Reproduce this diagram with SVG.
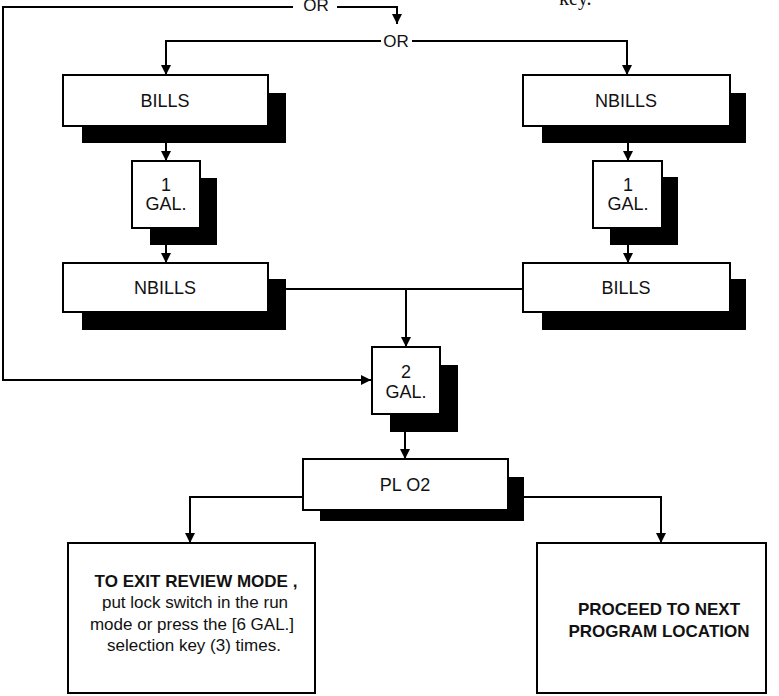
<svg xmlns="http://www.w3.org/2000/svg" width="779" height="696" viewBox="0 0 779 696">
  <style>
    .box { fill: #ffffff; stroke: #000000; stroke-width: 2; }
    .shadow { fill: #000000; stroke: none; }
    .wire { fill: none; stroke: #000000; stroke-width: 2; }
    .lbl { font-family: "Liberation Sans", Arial, sans-serif; font-size: 17px; fill: #111111; text-anchor: middle; }
    .big { font-size: 18px; }
    .bold { font-weight: bold; }
    .serif { font-family: "Liberation Serif", "Times New Roman", serif; font-size: 20px; fill: #111111; }
  </style>
  <defs>
    <marker id="arrow" viewBox="0 0 10 10" refX="10" refY="5" markerWidth="10" markerHeight="11" markerUnits="userSpaceOnUse" orient="auto">
      <path d="M0,0 L10,5 L0,10 Z" fill="#000000"/>
    </marker>
  </defs>

  <rect width="779" height="696" fill="#ffffff"/>

  <text class="serif" x="559" y="5">key.</text>

  <!-- connectors -->
  <g id="connectors">
    <path class="wire" d="M372,380 H3 V7 H293"/>
    <path class="wire" d="M3,380 H371" marker-end="url(#arrow)"/>
    <path class="wire" d="M337,7 H397 V24" marker-end="url(#arrow)"/>
    <text class="lbl" x="316" y="11">OR</text>

    <path class="wire" d="M381,41 H166 V75" marker-end="url(#arrow)"/>
    <path class="wire" d="M412,41 H627 V75" marker-end="url(#arrow)"/>
    <text class="lbl" x="396" y="47">OR</text>

    <path class="wire" d="M166,143 V161" marker-end="url(#arrow)"/>
    <path class="wire" d="M166,245 V263" marker-end="url(#arrow)"/>
    <path class="wire" d="M628,143 V161" marker-end="url(#arrow)"/>
    <path class="wire" d="M628,245 V263" marker-end="url(#arrow)"/>

    <path class="wire" d="M286,289 H523"/>
    <path class="wire" d="M406,289 V347" marker-end="url(#arrow)"/>
    <path class="wire" d="M405,432 V459" marker-end="url(#arrow)"/>

    <path class="wire" d="M303,497 H190 V543" marker-end="url(#arrow)"/>
    <path class="wire" d="M524,497 H661 V543" marker-end="url(#arrow)"/>
  </g>

  <!-- left column -->
  <g id="bills-left">
    <rect class="shadow" x="82" y="93" width="204" height="50"/>
    <rect class="box" x="63" y="75" width="205" height="51"/>
    <text class="lbl big" x="165" y="107">BILLS</text>
  </g>
  <g id="gal1-left">
    <rect class="shadow" x="150" y="178" width="67" height="67"/>
    <rect class="box" x="132" y="161" width="68" height="67"/>
    <text class="lbl big" x="166" y="191">1</text>
    <text class="lbl big" x="166" y="210">GAL.</text>
  </g>
  <g id="nbills-left">
    <rect class="shadow" x="82" y="279" width="204" height="51"/>
    <rect class="box" x="63" y="263" width="205" height="49"/>
    <text class="lbl big" x="165" y="294">NBILLS</text>
  </g>

  <!-- right column -->
  <g id="nbills-right">
    <rect class="shadow" x="542" y="93" width="204" height="50"/>
    <rect class="box" x="523" y="75" width="207" height="51"/>
    <text class="lbl big" x="626" y="107">NBILLS</text>
  </g>
  <g id="gal1-right">
    <rect class="shadow" x="610" y="177" width="68" height="68"/>
    <rect class="box" x="593" y="161" width="69" height="67"/>
    <text class="lbl big" x="628" y="191">1</text>
    <text class="lbl big" x="628" y="210">GAL.</text>
  </g>
  <g id="bills-right">
    <rect class="shadow" x="542" y="279" width="204" height="51"/>
    <rect class="box" x="523" y="263" width="207" height="49"/>
    <text class="lbl big" x="626" y="294">BILLS</text>
  </g>

  <!-- centre column -->
  <g id="gal2">
    <rect class="shadow" x="390" y="365" width="68" height="67"/>
    <rect class="box" x="372" y="347" width="68" height="67"/>
    <text class="lbl big" x="406" y="378">2</text>
    <text class="lbl big" x="406" y="398">GAL.</text>
  </g>
  <g id="plo2">
    <rect class="shadow" x="320" y="477" width="204" height="44"/>
    <rect class="box" x="303" y="459" width="205" height="51"/>
    <text class="lbl big" x="405" y="491">PL O2</text>
  </g>

  <!-- outcomes -->
  <g id="exit-review">
    <rect class="box" x="68" y="543" width="247" height="150"/>
    <text class="lbl bold" x="196" y="587">TO EXIT REVIEW MODE ,</text>
    <text class="lbl" x="195" y="608">put lock switch in the run</text>
    <text class="lbl" x="192" y="630">mode or press the [6 GAL.]</text>
    <text class="lbl" x="194" y="651">selection key (3) times.</text>
  </g>
  <g id="next-location">
    <rect class="box" x="537" y="543" width="229" height="150"/>
    <text class="lbl bold" x="659" y="615">PROCEED TO NEXT</text>
    <text class="lbl bold" x="659" y="637">PROGRAM LOCATION</text>
  </g>
</svg>
